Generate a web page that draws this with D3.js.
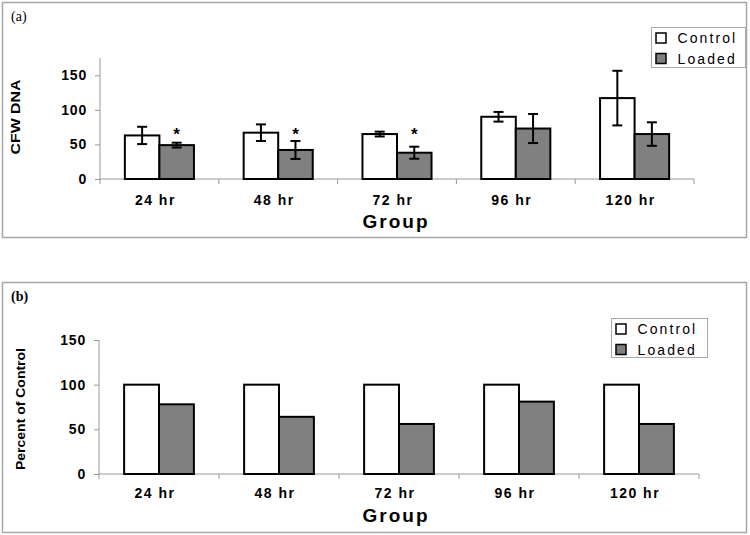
<!DOCTYPE html>
<html><head><meta charset="utf-8">
<script src="https://cdn.jsdelivr.net/npm/d3@7"></script>
<style>body{margin:0;background:#fff}svg{display:block}</style>
</head><body>
<script>
const groups = ["24 hr","48 hr","72 hr","96 hr","120 hr"];
const seriesNames = ["Control","Loaded"];
const cfuControl = [63, 67, 65, 90, 117];
const cfuControlErr = [12.5, 12, 3.5, 7, 39.5];
const cfuLoaded = [49, 42, 38, 73, 65];
const cfuLoadedErr = [3.5, 13, 8.7, 21, 17];
const significantGroups = ["24 hr","48 hr","72 hr"];
const starLevel = 71;
const pctControl = [100, 100, 100, 100, 100];
const pctLoaded = [78, 64, 56, 81, 56];
const yTicks = [0, 50, 100, 150];

const W = 750, H = 535;
const svg = d3.select("body").append("svg").attr("width", W).attr("height", H);
const fills = {Control: "#ffffff", Loaded: "#808080"};
const sans = "'Liberation Sans', Arial, sans-serif";

function panel(cfg) {
  const g = svg.append("g");
  g.append("rect").attr("x", 2.5).attr("y", cfg.boxY).attr("width", 744).attr("height", cfg.boxH)
    .attr("fill", "#fff").attr("stroke", "#a8a8a8").attr("stroke-width", 1.5);
  g.append("text").attr("x", 11).attr("y", cfg.tagY).attr("font-family", "'Liberation Serif', 'Times New Roman', serif")
    .attr("font-size", 14).attr("font-weight", cfg.tagBold ? "bold" : "normal").text(cfg.tag);

  const x = d3.scaleBand().domain(groups).range(cfg.xRange);
  const x1 = d3.scaleBand().domain(seriesNames).range([0, x.bandwidth()]).paddingInner(0).paddingOuter(0.72);
  const y = d3.scaleLinear().domain(cfg.yDomain).range(cfg.yRange);

  // y axis
  const yAxis = d3.axisLeft(y).tickValues(yTicks).tickSize(5).tickPadding(8);
  const ya = g.append("g").attr("transform", `translate(${cfg.xRange[0]},0)`).call(yAxis);
  ya.select(".domain").attr("stroke", "#999").attr("d", `M0,${cfg.yRange[1]}V${cfg.yRange[0]}`);
  ya.selectAll(".tick line").attr("stroke", "#999");
  ya.selectAll(".tick text").attr("font-family", sans).attr("font-size", 14).attr("font-weight", "bold")
    .attr("letter-spacing", "0.8px").attr("fill", "#000");

  // x axis with ticks at band edges
  const edges = groups.map(d => x(d)).concat([cfg.xRange[1]]);
  const xa = g.append("g");
  xa.append("line").attr("x1", cfg.xRange[0]).attr("x2", cfg.xRange[1]).attr("y1", y(0)).attr("y2", y(0)).attr("stroke", "#999");
  xa.selectAll("line.t").data(edges).join("line").attr("class", "t")
    .attr("x1", d => d).attr("x2", d => d).attr("y1", y(0)).attr("y2", y(0) + 5).attr("stroke", "#999");
  xa.selectAll("text").data(groups).join("text")
    .attr("x", d => x(d) + x.bandwidth() / 2 - 4).attr("y", cfg.catY)
    .attr("text-anchor", "middle").attr("font-family", sans).attr("font-size", 14).attr("font-weight", "bold")
    .attr("letter-spacing", "1.5px").text(d => d);

  // bars
  const data = [];
  groups.forEach((gr, i) => {
    data.push({g: gr, s: "Control", v: cfg.control[i], e: cfg.controlErr ? cfg.controlErr[i] : null});
    data.push({g: gr, s: "Loaded", v: cfg.loaded[i], e: cfg.loadedErr ? cfg.loadedErr[i] : null});
  });
  g.selectAll("rect.bar").data(data).join("rect").attr("class", "bar")
    .attr("x", d => x(d.g) + x1(d.s)).attr("width", x1.bandwidth())
    .attr("y", d => y(d.v)).attr("height", d => y(0) - y(d.v))
    .attr("fill", d => fills[d.s]).attr("stroke", "#000").attr("stroke-width", 2);

  const eb = data.filter(d => d.e != null);
  const cx = d => x(d.g) + x1(d.s) + x1.bandwidth() / 2;
  g.selectAll("line.eb").data(eb).join("line").attr("class", "eb")
    .attr("x1", cx).attr("x2", cx).attr("y1", d => y(d.v + d.e)).attr("y2", d => y(d.v - d.e))
    .attr("stroke", "#000").attr("stroke-width", 2);
  ["+", "-"].forEach(sg => {
    g.selectAll("line.cap" + (sg === "+" ? "p" : "m")).data(eb).join("line").attr("class", "cap" + (sg === "+" ? "p" : "m"))
      .attr("x1", d => cx(d) - 5).attr("x2", d => cx(d) + 5)
      .attr("y1", d => y(sg === "+" ? d.v + d.e : d.v - d.e)).attr("y2", d => y(sg === "+" ? d.v + d.e : d.v - d.e))
      .attr("stroke", "#000").attr("stroke-width", 2);
  });

  if (cfg.stars) {
    g.selectAll("text.star").data(cfg.stars).join("text").attr("class", "star")
      .attr("x", d => x(d) + x1("Loaded") + x1.bandwidth() / 2).attr("y", y(starLevel) + 10)
      .attr("text-anchor", "middle").attr("font-family", sans).attr("font-size", 17).attr("font-weight", "bold").text("*");
  }

  // axis titles
  g.append("text").attr("x", 396).attr("y", cfg.groupY).attr("text-anchor", "middle")
    .attr("font-family", sans).attr("font-size", 19).attr("font-weight", "bold").attr("letter-spacing", "2px").text("Group");
  g.append("text").attr("transform", `translate(${cfg.ylabX},${cfg.ylabY}) rotate(-90)`)
    .attr("text-anchor", "middle").attr("font-family", sans).attr("font-size", 13).attr("font-weight", "bold")
    .attr("textLength", cfg.ylabLen).attr("lengthAdjust", "spacingAndGlyphs").text(cfg.ylab);

  // legend
  const L = cfg.legend;
  g.append("rect").attr("x", L.x).attr("y", L.y).attr("width", L.w).attr("height", L.h)
    .attr("fill", "#fff").attr("stroke", "#a8a8a8").attr("stroke-width", 1);
  seriesNames.forEach((s, i) => {
    const cy = L.y + 10.5 + i * 20.5;
    g.append("rect").attr("x", L.x + 4.5).attr("y", cy - 5).attr("width", 10).attr("height", 10)
      .attr("fill", fills[s]).attr("stroke", "#000").attr("stroke-width", 1.5);
    g.append("text").attr("x", L.x + 26).attr("y", cy + 5).attr("font-family", sans).attr("font-size", 14)
      .attr("letter-spacing", "2.1px").text(s);
  });
}

panel({boxY: 2.5, boxH: 235, tag: "(a)", tagY: 21, tagBold: false,
  xRange: [100, 694], yDomain: [0, 175], yRange: [179, 58], catY: 205, groupY: 228,
  control: cfuControl, controlErr: cfuControlErr, loaded: cfuLoaded, loadedErr: cfuLoadedErr,
  stars: significantGroups, ylab: "CFW DNA", ylabX: 20, ylabY: 117, ylabLen: 75,
  legend: {x: 651.5, y: 27.5, w: 94, h: 40}});

panel({boxY: 282.5, boxH: 250, tag: "(b)", tagY: 301, tagBold: true,
  xRange: [99, 699], yDomain: [0, 150], yRange: [474, 340], catY: 498, groupY: 522,
  control: pctControl, controlErr: null, loaded: pctLoaded, loadedErr: null,
  stars: null, ylab: "Percent of Control", ylabX: 25, ylabY: 409, ylabLen: 122,
  legend: {x: 611.5, y: 318.5, w: 96, h: 39}});
</script>
</body></html>
